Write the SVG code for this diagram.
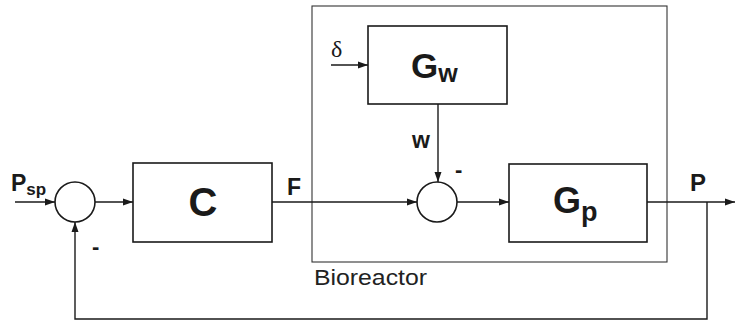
<svg xmlns="http://www.w3.org/2000/svg" width="735" height="322" viewBox="0 0 735 322">
<style>
.ln{stroke:#1a1a1a;stroke-width:1.4;fill:none}
.bx{stroke:#1a1a1a;stroke-width:1.6;fill:#fff}
.bt{font-family:"Liberation Sans",Arial,sans-serif;font-weight:bold;fill:#1a1a1a}
</style>
<defs>
<marker id="ah" viewBox="0 0 10 10" refX="10" refY="5" markerWidth="10" markerHeight="10" markerUnits="userSpaceOnUse" orient="auto">
<path d="M0,1.5 L10,5 L0,8.5 Z" fill="#1a1a1a"/>
</marker>
</defs>
<rect width="735" height="322" fill="#fff"/>
<g id="bioreactor">
<rect x="312" y="6" width="355" height="256" fill="none" stroke="#333" stroke-width="1.1"/>
<text x="314" y="285" font-family="Liberation Sans,Arial,sans-serif" font-size="22" fill="#222" textLength="113" lengthAdjust="spacingAndGlyphs">Bioreactor</text>
</g>
<g id="connectors">
<line class="ln" x1="15" y1="202" x2="55" y2="202" marker-end="url(#ah)"/>
<line class="ln" x1="95" y1="202" x2="133" y2="202" marker-end="url(#ah)"/>
<line class="ln" x1="272" y1="202" x2="417" y2="202" marker-end="url(#ah)"/>
<line class="ln" x1="457" y1="202" x2="509" y2="202" marker-end="url(#ah)"/>
<line class="ln" x1="647" y1="202" x2="735" y2="202" marker-end="url(#ah)"/>
<line class="ln" x1="331" y1="65" x2="368" y2="65" marker-end="url(#ah)"/>
<line class="ln" x1="438" y1="104" x2="438" y2="182" marker-end="url(#ah)"/>
<polyline class="ln" points="707,202 707,319 75,319 75,222" marker-end="url(#ah)"/>
</g>
<g id="sum1">
<circle class="bx" cx="75" cy="202" r="20"/>
</g>
<g id="sum2">
<circle class="bx" cx="437" cy="202" r="20"/>
</g>
<g id="C">
<rect class="bx" x="133" y="163" width="139" height="79"/>
<text class="bt" x="203" y="216" font-size="40" text-anchor="middle">C</text>
</g>
<g id="Gw">
<rect class="bx" x="368" y="26" width="139" height="78"/>
<text class="bt" x="411" y="78" font-size="35">G<tspan font-size="25" dy="4">w</tspan></text>
</g>
<g id="Gp">
<rect class="bx" x="509" y="164" width="138" height="78"/>
<text class="bt" x="553" y="213" font-size="36">G<tspan font-size="27" dy="8">p</tspan></text>
</g>
<g id="labels">
<text class="bt" x="11" y="191" font-size="23">P<tspan font-size="17" dy="4">sp</tspan></text>
<text class="bt" x="92" y="254" font-size="22">-</text>
<text class="bt" x="287" y="195" font-size="23">F</text>
<text class="bt" x="412" y="148" font-size="23">w</text>
<text class="bt" x="455" y="177" font-size="22">-</text>
<text class="bt" x="690" y="191" font-size="24">P</text>
<text x="331" y="57" font-family="Liberation Serif,'Times New Roman',serif" font-size="24" fill="#1a1a1a">δ</text>
</g>
</svg>
